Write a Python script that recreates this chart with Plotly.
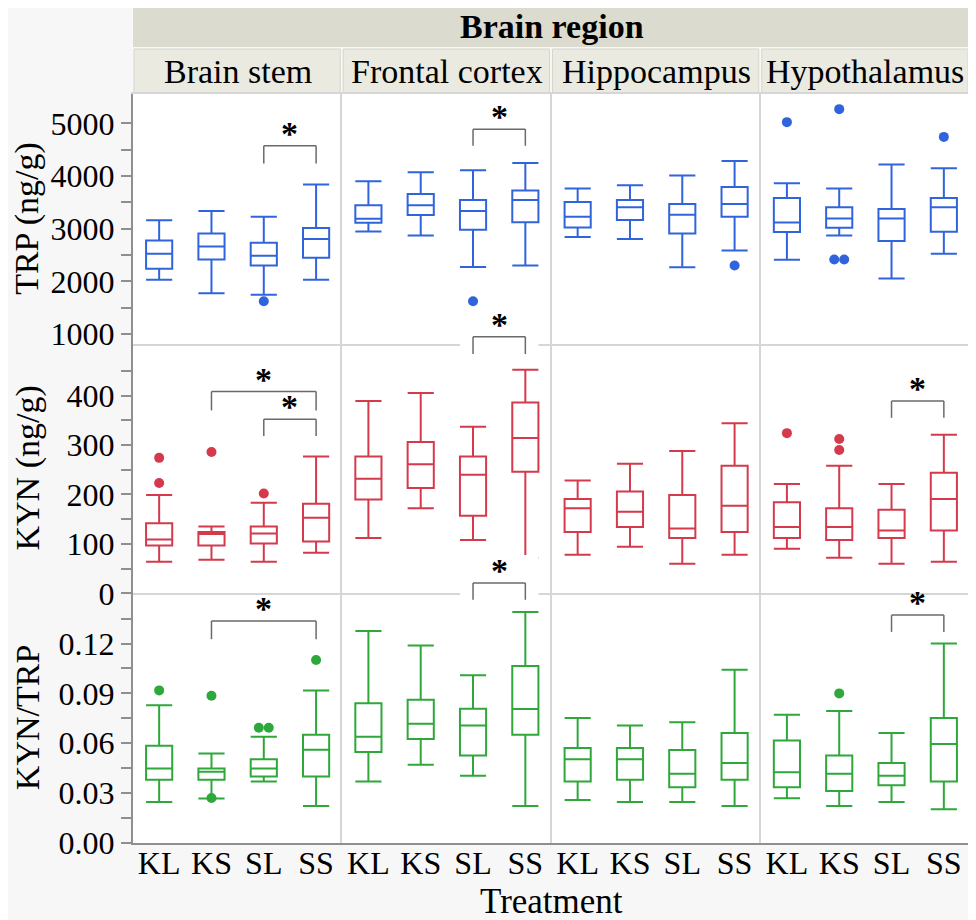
import plotly.graph_objects as go
from plotly.subplots import make_subplots

# ---------------- data ----------------
TREATMENTS = ["KL", "KS", "SL", "SS"]
REGIONS = ["Brain stem", "Frontal cortex", "Hippocampus", "Hypothalamus"]
MEASURE_TITLES = ["TRP (ng/g)", "KYN (ng/g)", "KYN/TRP"]

# rows = regions, columns = treatments (KL, KS, SL, SS)
TRP_LOW = [[2029, 1775, 1743, 2029], [2949, 2873, 2270, 2302], [2840, 2802, 2269, 2587], [2409, 2873, 2053, 2524]]
TRP_Q1 = [[2238, 2416, 2302, 2448], [3114, 3260, 2981, 3121], [3025, 3164, 2911, 3229], [2935, 3019, 2764, 2943]]
TRP_MED = [[2524, 2663, 2486, 2803], [3190, 3444, 3337, 3546], [3229, 3406, 3267, 3469], [3120, 3196, 3196, 3406]]
TRP_Q3 = [[2778, 2911, 2733, 3013], [3444, 3660, 3546, 3724], [3507, 3545, 3469, 3792], [3583, 3406, 3373, 3583]]
TRP_HIGH = [[3159, 3337, 3229, 3838], [3902, 4073, 4111, 4251], [3762, 3825, 4009, 4288], [3863, 3762, 4219, 4149]]
TRP_OUTLIERS = [[("SL", 1622)], [("SL", 1622)], [("SS", 2301)],
                [("KL", 5025), ("KS", 5272), ("KS", 2415), ("KS", 2415), ("SS", 4745)]]

KYN_LOW = [[64, 68, 64, 82], [112, 172, 108, 72], [78, 94, 60, 78], [90, 72, 60, 64]]
KYN_Q1 = [[97, 97, 101, 105], [190, 213, 157, 246], [124, 134, 112, 124], [112, 108, 112, 127]]
KYN_MED = [[109, 120, 121, 153], [232, 261, 240, 314], [172, 165, 131, 177], [134, 134, 127, 191]]
KYN_Q3 = [[142, 124, 135, 181], [277, 306, 277, 386], [191, 206, 199, 258], [184, 172, 169, 244]]
KYN_HIGH = [[199, 135, 183, 277], [389, 405, 337, 452], [228, 262, 288, 344], [221, 258, 221, 321]]
KYN_OUTLIERS = [[("KL", 274), ("KL", 223), ("KS", 286), ("SL", 202)], [], [],
                [("KL", 324), ("KS", 312), ("KS", 290)]]

RATIO_LOW = [[0.0247, 0.0267, 0.0370, 0.0223], [0.0370, 0.0470, 0.0404, 0.0223],
             [0.0259, 0.0247, 0.0247, 0.0223], [0.0269, 0.0223, 0.0247, 0.0203]]
RATIO_Q1 = [[0.0380, 0.0380, 0.0400, 0.0400], [0.0547, 0.0625, 0.0526, 0.0651],
            [0.0370, 0.0380, 0.0336, 0.0380], [0.0336, 0.0313, 0.0348, 0.0370]]
RATIO_MED = [[0.0448, 0.0428, 0.0448, 0.0561], [0.0639, 0.0717, 0.0707, 0.0806],
             [0.0504, 0.0504, 0.0416, 0.0482], [0.0426, 0.0416, 0.0404, 0.0595]]
RATIO_Q3 = [[0.0585, 0.0448, 0.0504, 0.0651], [0.0840, 0.0862, 0.0808, 0.1065],
            [0.0571, 0.0571, 0.0559, 0.0661], [0.0617, 0.0526, 0.0482, 0.0752]]
RATIO_HIGH = [[0.0828, 0.0539, 0.0639, 0.0918], [0.1276, 0.1188, 0.1009, 0.1389],
              [0.0752, 0.0707, 0.0727, 0.1043], [0.0772, 0.0794, 0.0661, 0.1200]]
RATIO_OUTLIERS = [[("KL", 0.0918), ("KS", 0.0886), ("KS", 0.0271), ("SL", 0.0693), ("SL", 0.0693), ("SS", 0.1101)],
                  [], [], [("KS", 0.0900)]]

# significance brackets: (region, from treatment, to treatment, bar level, leg end level)
TRP_BRACKETS = [("Brain stem", "SL", "SS", 4575, 4238), ("Frontal cortex", "SL", "SS", 4892, 4575)]
KYN_BRACKETS = [("Brain stem", "KS", "SS", 408, 370), ("Brain stem", "SL", "SS", 352, 318),
                ("Frontal cortex", "SL", "SS", 519, 484), ("Hypothalamus", "SL", "SS", 389, 355)]
RATIO_BRACKETS = [("Brain stem", "KS", "SS", 0.1336, 0.1226), ("Frontal cortex", "SL", "SS", 0.1564, 0.1463),
                  ("Hypothalamus", "SL", "SS", 0.1371, 0.1270)]

TRP_TICKS = [1000, 2000, 3000, 4000, 5000]
TRP_MINOR = [1500, 2500, 3500, 4500]
KYN_TICKS = [0, 100, 200, 300, 400]
KYN_MINOR = [50, 150, 250, 350, 450]
RATIO_TICKS = [0.00, 0.03, 0.06, 0.09, 0.12]
RATIO_MINOR = [0.015, 0.045, 0.075, 0.105, 0.135]

# ---------------- style / layout ----------------
OFF = 8                     # page body margin added by the browser
W, H = 968, 920
ML, MR, MT, MB = 133 - OFF, W - (972 - OFF), 94 - OFF, H - (843 - OFF)
PLOT_W = W - ML - MR
PLOT_H = H - MT - MB
FONT = "Liberation Serif"
DARK = "#8f8f8f"
LIGHT = "#d6d6d6"
BRACKET = "#6a6a6a"

rows = [
    dict(low=TRP_LOW, q1=TRP_Q1, med=TRP_MED, q3=TRP_Q3, high=TRP_HIGH, out=TRP_OUTLIERS,
         br=TRP_BRACKETS, color="#3064dc", rng=[815, 5560], ticks=TRP_TICKS, minor=TRP_MINOR,
         fmt=lambda v: f"{v:d}"),
    dict(low=KYN_LOW, q1=KYN_Q1, med=KYN_MED, q3=KYN_Q3, high=KYN_HIGH, out=KYN_OUTLIERS,
         br=KYN_BRACKETS, color="#d43a4c", rng=[0, 505], ticks=KYN_TICKS, minor=KYN_MINOR,
         fmt=lambda v: f"{v:d}"),
    dict(low=RATIO_LOW, q1=RATIO_Q1, med=RATIO_MED, q3=RATIO_Q3, high=RATIO_HIGH, out=RATIO_OUTLIERS,
         br=RATIO_BRACKETS, color="#2ea83a", rng=[0, 0.1502], ticks=RATIO_TICKS, minor=RATIO_MINOR,
         fmt=lambda v: f"{v:.2f}"),
]

fig = make_subplots(rows=3, cols=4, horizontal_spacing=0, vertical_spacing=0)
NCAT = len(TREATMENTS)
cat_idx = {t: i for i, t in enumerate(TREATMENTS)}


def axis_id(r, c):
    n = r * 4 + c + 1
    return "" if n == 1 else str(n)


shapes = []
annotations = []

for r, spec in enumerate(rows):
    lo, hi = spec["rng"]
    for c, region in enumerate(REGIONS):
        fig.add_trace(go.Box(
            x=list(range(NCAT)), q1=spec["q1"][c], median=spec["med"][c], q3=spec["q3"][c],
            lowerfence=spec["low"][c], upperfence=spec["high"][c],
            width=0.5, whiskerwidth=1, boxpoints=False,
            line=dict(color=spec["color"], width=2), fillcolor="rgba(255,255,255,0)",
            showlegend=False, hoverinfo="skip"), row=r + 1, col=c + 1)
        # outliers, side by side when identical
        pts = spec["out"][c]
        xs, ys = [], []
        for k, (t, v) in enumerate(pts):
            same = [j for j, p in enumerate(pts) if p == (t, v)]
            n = len(same)
            pos = same.index(k)
            xs.append(cat_idx[t] + (pos - (n - 1) / 2) * 0.19)
            ys.append(v)
        if xs:
            fig.add_trace(go.Scatter(x=xs, y=ys, mode="markers",
                                     marker=dict(color=spec["color"], size=10),
                                     showlegend=False, hoverinfo="skip", cliponaxis=False),
                          row=r + 1, col=c + 1)
        aid = axis_id(r, c)
        xd, yd = f"x{aid} domain", f"y{aid} domain"

        def dy(v):
            return (v - lo) / (hi - lo)

        def dx(i):
            return (i + 0.5) / NCAT

        for (reg, t0, t1, bar, leg) in spec["br"]:
            if reg != region:
                continue
            x0, x1 = dx(cat_idx[t0]), dx(cat_idx[t1])
            if bar > hi:
                shapes.append(dict(type="rect", xref=xd, yref=yd, x0=dx(cat_idx[t0] - 0.25),
                                   x1=dx(cat_idx[t1] + 0.25), ysizemode="pixel", yanchor=dy(bar),
                                   y0=-20, y1=28, fillcolor="white", line=dict(width=0), layer="above"))
            for (a0, b0, a1, b1) in [(x0, leg, x0, bar), (x0, bar, x1, bar), (x1, bar, x1, leg)]:
                shapes.append(dict(type="line", xref=xd, yref=yd, x0=a0, x1=a1, y0=dy(b0), y1=dy(b1),
                                   line=dict(color=BRACKET, width=1.5), layer="above"))
            annotations.append(dict(text="<b>*</b>", xref=xd, yref=yd, x=(x0 + x1) / 2, y=dy(bar),
                                    yanchor="bottom", xanchor="center", showarrow=False, yshift=-8,
                                    font=dict(family=FONT, size=34, color="black")))

        first_col = c == 0
        last_row = r == 2
        fig.update_xaxes(range=[-0.5, NCAT - 0.5], tickvals=list(range(NCAT)), ticktext=TREATMENTS,
                         showticklabels=last_row, ticks="", showgrid=False, zeroline=False,
                         showline=True, linewidth=2, linecolor=DARK if last_row else LIGHT,
                         mirror=(r == 0), fixedrange=True, ticklabelstandoff=-9,
                         tickfont=dict(family=FONT, size=32, color="black"),
                         row=r + 1, col=c + 1)
        yargs = dict(range=spec["rng"], tickmode="array", tickvals=spec["ticks"],
                     ticktext=[spec["fmt"](v) for v in spec["ticks"]],
                     showticklabels=first_col, showgrid=False, zeroline=False,
                     showline=True, linewidth=2, linecolor=DARK if first_col else LIGHT,
                     mirror=(c == 3), fixedrange=True,
                     tickfont=dict(family=FONT, size=32, color="black"))
        if first_col:
            yargs.update(ticks="outside", ticklen=10, tickwidth=2, tickcolor=DARK,
                         minor=dict(tickmode="array", tickvals=spec["minor"], ticks="outside",
                                    ticklen=10, tickwidth=2, tickcolor=DARK, showgrid=False))
        else:
            yargs.update(ticks="")
        fig.update_yaxes(row=r + 1, col=c + 1, **yargs)

    annotations.append(dict(text=MEASURE_TITLES[r], xref="paper", yref=f"y{axis_id(r, 0)} domain",
                            x=0, y=0.5, xanchor="center", yanchor="middle", xshift=-106,
                            textangle=-90, showarrow=False,
                            font=dict(family=FONT, size=34, color="black")))


def py(px):
    # screen pixel row -> paper coordinate
    return (H - MB - (px - OFF)) / PLOT_H


# header bands
shapes.insert(0, dict(type="rect", xref="paper", yref="paper", x0=0, x1=1, y0=py(47), y1=py(5),
                      fillcolor="#dcdbcf", line=dict(width=0), layer="below"))
for c, region in enumerate(REGIONS):
    shapes.insert(1, dict(type="rect", xref="paper", yref="paper",
                          x0=(c * PLOT_W / 4 + 1) / PLOT_W, x1=((c + 1) * PLOT_W / 4 - 2) / PLOT_W,
                          y0=py(93), y1=py(49), fillcolor="#eaeae1",
                          line=dict(color="#d6d6ca", width=1), layer="below"))
    annotations.append(dict(text=region, xref="paper", yref="paper", x=(c + 0.5) / 4, y=py(71),
                            xanchor="center", yanchor="middle", showarrow=False,
                            font=dict(family=FONT, size=34, color="black")))
annotations.append(dict(text="<b>Brain region</b>", xref="paper", yref="paper", x=0.5, y=py(26),
                        xanchor="center", yanchor="middle", showarrow=False,
                        font=dict(family=FONT, size=34, color="black")))
annotations.append(dict(text="Treatment", xref="paper", yref="paper", x=0.5, y=0,
                        xanchor="center", yanchor="middle", yshift=-58, showarrow=False,
                        font=dict(family=FONT, size=35, color="black")))

fig.update_layout(width=W, height=H, margin=dict(l=ML, r=MR, t=MT, b=MB, pad=0),
                  paper_bgcolor="#f7f7f7", plot_bgcolor="white",
                  font=dict(family=FONT, size=32, color="black"),
                  shapes=shapes, annotations=annotations, showlegend=False)

fig.write_html("out.html")
